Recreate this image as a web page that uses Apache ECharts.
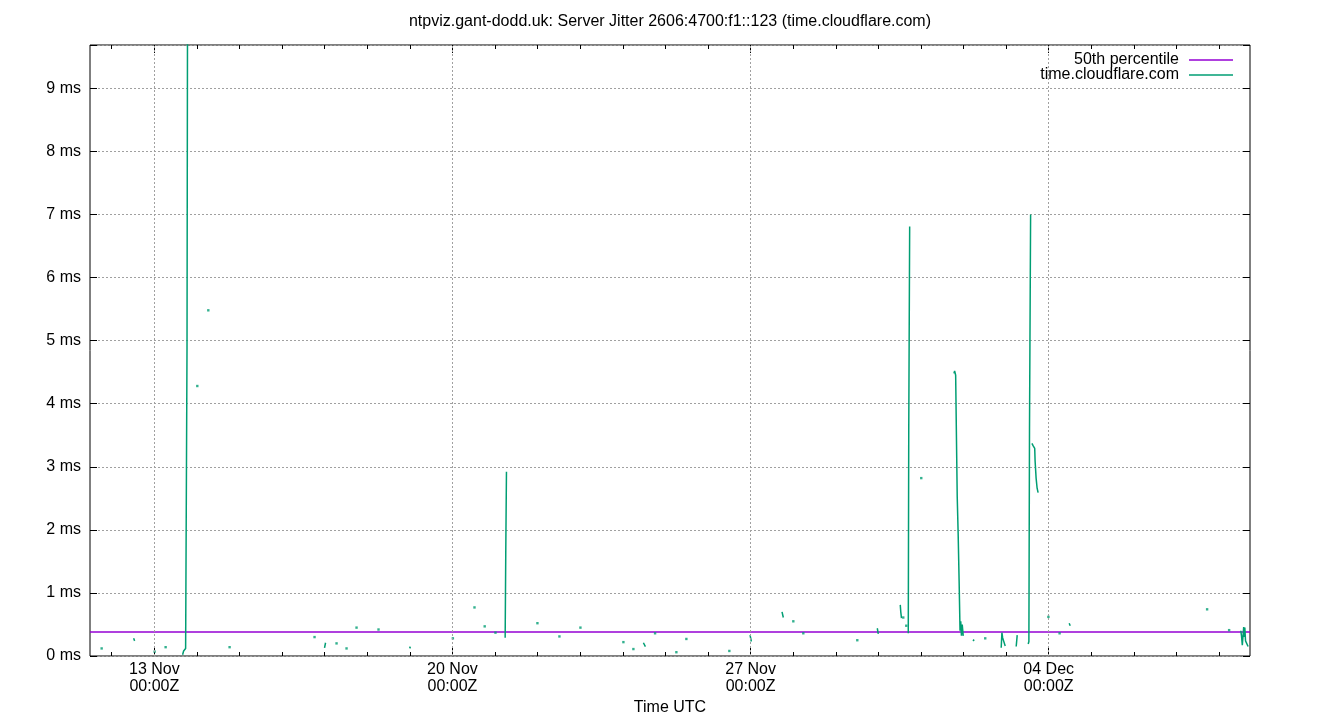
<!DOCTYPE html>
<html>
<head>
<meta charset="utf-8">
<script src="https://cdn.jsdelivr.net/npm/echarts@6/dist/echarts.min.js"></script>
<style>html,body{margin:0;padding:0;background:#fff}#c{width:1340px;height:720px}</style>
</head>
<body>
<div id="c"></div>
<script>
const YEAR = 2024;
const titleText = 'ntpviz.gant-dodd.uk: Server Jitter 2606:4700:f1::123 (time.cloudflare.com)';
const xAxisName = 'Time UTC';
const seriesNames = ['50th percentile', 'time.cloudflare.com'];
const axisStart = '11-11 11:45';
const axisEnd = '12-08 17:26';
const yMax = 9.686;
const majorTicks = ['11-13 00:00', '11-20 00:00', '11-27 00:00', '12-04 00:00'];
const majorLabels = ['13 Nov\n00:00Z', '20 Nov\n00:00Z', '27 Nov\n00:00Z', '04 Dec\n00:00Z'];
const dayTicks = ['11-12 00:00','11-13 00:00','11-14 00:00','11-15 00:00','11-16 00:00','11-17 00:00','11-18 00:00',
  '11-19 00:00','11-20 00:00','11-21 00:00','11-22 00:00','11-23 00:00','11-24 00:00','11-25 00:00','11-26 00:00',
  '11-27 00:00','11-28 00:00','11-29 00:00','11-30 00:00','12-01 00:00','12-02 00:00','12-03 00:00','12-04 00:00',
  '12-05 00:00','12-06 00:00','12-07 00:00','12-08 00:00'];
const percentile50 = 0.38;

// connected runs of jitter samples (ms); a run of one sample is an isolated point
const jitterRuns = [
  [['11-11 18:19', 0.12]],
  [['11-12 12:20', 0.28], ['11-12 12:54', 0.24]],
  [['11-13 00:10', 0.07]],
  [['11-13 06:22', 0.14]],
  [['11-13 15:56', 0.02], ['11-13 16:30', 0.08], ['11-13 17:04', 0.10], ['11-13 17:38', 0.12], ['11-13 18:11', 0.15], ['11-13 18:25', 4.87], ['11-13 18:45', 11.0]],
  [['11-14 00:13', 4.28]],
  [['11-14 06:25', 5.48]],
  [['11-14 18:25', 0.14]],
  [['11-16 18:17', 0.30]],
  [['11-16 23:55', 0.13], ['11-17 00:29', 0.21]],
  [['11-17 06:41', 0.20]],
  [['11-17 12:19', 0.12]],
  [['11-17 17:57', 0.45]],
  [['11-18 06:20', 0.42]],
  [['11-18 23:48', 0.15], ['11-19 00:22', 0.12]],
  [['11-20 00:14', 0.28]],
  [['11-20 12:25', 0.77]],
  [['11-20 18:10', 0.47]],
  [['11-21 00:14', 0.37]],
  [['11-21 05:42', 0.29], ['11-21 06:02', 1.60], ['11-21 06:26', 2.92]],
  [['11-21 23:53', 0.52]],
  [['11-22 12:17', 0.31]],
  [['11-23 00:07', 0.45]],
  [['11-24 00:20', 0.22]],
  [['11-24 05:58', 0.11]],
  [['11-24 11:36', 0.21], ['11-24 12:44', 0.15]],
  [['11-24 18:11', 0.36]],
  [['11-25 06:11', 0.06]],
  [['11-25 11:49', 0.27]],
  [['11-26 12:02', 0.08]],
  [['11-26 23:42', 0.33], ['11-27 00:26', 0.23]],
  [['11-27 17:43', 0.70], ['11-27 18:27', 0.61]],
  [['11-28 00:05', 0.55]],
  [['11-28 05:43', 0.36]],
  [['11-29 12:08', 0.25]],
  [['11-29 23:24', 0.44], ['11-29 23:58', 0.35]],
  [['11-30 12:21', 0.81], ['11-30 12:38', 0.70], ['11-30 13:02', 0.60]],
  [['11-30 14:02', 0.61]],
  [['11-30 15:44', 0.48]],
  [['11-30 16:52', 0.36], ['11-30 17:08', 3.58], ['11-30 17:39', 6.81]],
  [['12-01 00:11', 2.82]],
  [['12-01 18:36', 4.48], ['12-01 18:59', 4.52], ['12-01 19:34', 4.45], ['12-01 19:54', 3.70], ['12-01 20:27', 2.52], ['12-01 20:58', 1.95],
   ['12-01 21:31', 1.19], ['12-01 22:02', 0.40], ['12-01 22:26', 0.55], ['12-01 22:49', 0.32], ['12-01 23:16', 0.50], ['12-01 23:50', 0.32]],
  [['12-02 05:18', 0.24], ['12-02 06:02', 0.26]],
  [['12-02 12:14', 0.28]],
  [['12-02 21:14', 0.13], ['12-02 21:38', 0.37], ['12-02 22:02', 0.29], ['12-02 22:35', 0.24], ['12-02 23:29', 0.16]],
  [['12-03 05:41', 0.15], ['12-03 06:15', 0.33]],
  [['12-03 12:27', 0.19], ['12-03 12:50', 0.23], ['12-03 13:11', 3.63], ['12-03 13:48', 7.00]],
  [['12-03 14:32', 3.37], ['12-03 15:16', 3.33], ['12-03 16:07', 3.29], ['12-03 16:20', 3.09], ['12-03 16:54', 2.82], ['12-03 17:28', 2.66], ['12-03 18:02', 2.59]],
  [['12-03 23:50', 0.62]],
  [['12-04 06:08', 0.36]],
  [['12-04 11:32', 0.52], ['12-04 12:07', 0.48]],
  [['12-07 17:16', 0.74]],
  [['12-08 05:40', 0.41]],
  [['12-08 12:15', 0.40], ['12-08 12:39', 0.32], ['12-08 13:06', 0.17], ['12-08 13:40', 0.20], ['12-08 13:53', 0.46],
   ['12-08 14:14', 0.30], ['12-08 14:31', 0.45], ['12-08 14:55', 0.24], ['12-08 15:28', 0.24], ['12-08 16:22', 0.15]]
];

const FONT = '"Liberation Sans", Arial, sans-serif';
const GREEN = '#009e73';
const PURPLE = '#9400d3';
const LEGEND_LINE = 'path://M0,0H44V1.5H0Z';
const T = s => Date.UTC(YEAR, +s.slice(0, 2) - 1, +s.slice(3, 5), +s.slice(6, 8), +s.slice(9, 11));

const xMin = T(axisStart), xMax = T(axisEnd);
const majorT = majorTicks.map(T);
const dayT = dayTicks.map(T);

const lineData = [];
const dotData = [];
jitterRuns.forEach(run => {
  if (run.length === 1) {
    dotData.push([T(run[0][0]), run[0][1]]);
  } else {
    run.forEach(p => lineData.push([T(p[0]), p[1]]));
    lineData.push([T(run[run.length - 1][0]), '-']);
  }
});

const baseX = {
  type: 'value', min: xMin, max: xMax, gridIndex: 0, scale: true,
  axisLine: { show: false }, splitLine: { show: false }
};
const tickStyle = { color: '#000', width: 1 };

const chart = echarts.init(document.getElementById('c'), null, { renderer: 'canvas' });
chart.setOption({
  animation: false,
  backgroundColor: '#fff',
  textStyle: { fontFamily: FONT, color: '#000' },
  title: {
    text: titleText, left: 'center', top: 14, padding: 0,
    textStyle: { fontSize: 16, fontWeight: 'normal', color: '#000', fontFamily: FONT }
  },
  legend: {
    data: seriesNames.map(n => ({ name: n, icon: LEGEND_LINE })),
    orient: 'vertical', right: 107, top: 52, padding: 0,
    align: 'right', itemWidth: 44, itemHeight: 14, itemGap: -1, symbolKeepAspect: true,
    textStyle: { fontSize: 16, color: '#000', fontFamily: FONT, padding: [0, 5, 0, 0] }
  },
  grid: { left: 90, right: 90, top: 45, bottom: 64, show: true, borderColor: '#000', borderWidth: 1, containLabel: false, outerBoundsMode: 'none' },
  xAxis: [
    Object.assign({}, baseX, {
      position: 'bottom',
      axisTick: { show: true, inside: true, length: 8, customValues: majorT, lineStyle: tickStyle },
      axisLabel: {
        show: true, customValues: majorT, margin: 5, fontSize: 16, lineHeight: 17, color: '#000', fontFamily: FONT,
        formatter: v => { const i = majorT.indexOf(v); return i >= 0 ? majorLabels[i] : ''; }
      },
      name: xAxisName, nameLocation: 'middle', nameGap: 43,
      nameTextStyle: { fontSize: 16, color: '#000', fontFamily: FONT }
    }),
    Object.assign({}, baseX, {
      position: 'bottom',
      axisTick: { show: true, inside: true, length: 4, customValues: dayT, lineStyle: tickStyle },
      axisLabel: { show: false }
    }),
    Object.assign({}, baseX, {
      position: 'top',
      axisTick: { show: true, inside: true, length: 8, customValues: majorT, lineStyle: tickStyle },
      axisLabel: { show: false }
    }),
    Object.assign({}, baseX, {
      position: 'top',
      axisTick: { show: true, inside: true, length: 4, customValues: dayT, lineStyle: tickStyle },
      axisLabel: { show: false }
    })
  ],
  yAxis: [
    {
      type: 'value', position: 'left', min: 0, max: yMax, interval: 1,
      axisLine: { show: false },
      axisTick: { show: true, inside: true, length: 7, lineStyle: tickStyle },
      axisLabel: {
        margin: 9, fontSize: 16, color: '#000', fontFamily: FONT,
        formatter: v => Math.abs(v - Math.round(v)) < 1e-6 ? Math.round(v) + ' ms' : ''
      },
      splitLine: { show: true, lineStyle: { color: '#a0a0a0', width: 1, type: [2, 2] } }
    },
    {
      type: 'value', position: 'right', min: 0, max: yMax, interval: 1,
      axisLine: { show: false },
      axisTick: { show: true, inside: true, length: 7, lineStyle: tickStyle },
      axisLabel: { show: false },
      splitLine: { show: false }
    }
  ],
  series: [
    {
      name: seriesNames[0], type: 'line', xAxisIndex: 0, yAxisIndex: 0,
      data: [[xMin, percentile50], [xMax, percentile50]],
      symbol: 'none', lineStyle: { color: PURPLE, width: 1.5 }, itemStyle: { color: PURPLE },
      z: 2,
      markLine: {
        silent: true, symbol: ['none', 'none'], label: { show: false },
        lineStyle: { color: '#a0a0a0', width: 1, type: [2, 2] },
        emphasis: { disabled: true },
        data: majorT.map(t => ({ xAxis: t }))
      }
    },
    {
      name: seriesNames[1], type: 'line', xAxisIndex: 0, yAxisIndex: 0,
      data: lineData, connectNulls: false, clip: true,
      symbol: 'none', lineStyle: { color: GREEN, width: 1.5 }, itemStyle: { color: GREEN },
      z: 3
    },
    {
      name: 'isolated samples', type: 'scatter', xAxisIndex: 0, yAxisIndex: 0,
      data: dotData, symbol: 'rect', symbolSize: 2.4, itemStyle: { color: GREEN },
      z: 3
    }
  ]
});
</script>
</body>
</html>
